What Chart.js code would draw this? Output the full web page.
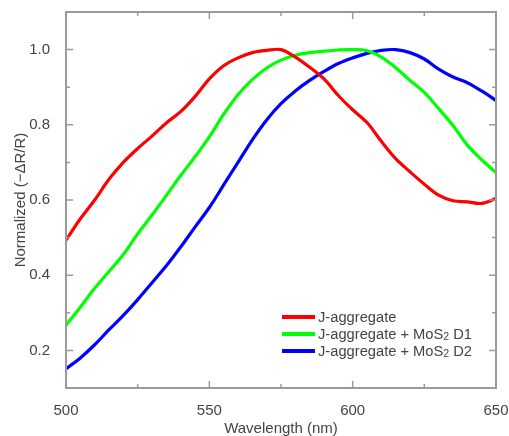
<!DOCTYPE html>
<html>
<head>
<meta charset="utf-8">
<script src="https://cdn.jsdelivr.net/npm/chart.js@4.4.0/dist/chart.umd.min.js"></script>
<style>
  html, body { margin: 0; padding: 0; background: #fff; }
</style>
</head>
<body>
<canvas id="spectraChart" width="509" height="436"></canvas>
<script>
const wavelengths = [500, 505, 510, 515, 520, 525, 530, 535, 540, 545, 550, 555, 560, 565, 570, 575,
    580, 585, 590, 595, 600, 605, 610, 615, 620, 625, 630, 635, 640, 645, 650];

const jAggregate = [0.493, 0.550, 0.600, 0.655, 0.700, 0.737, 0.770, 0.805, 0.835, 0.875, 0.922, 0.957,
    0.978, 0.992, 0.998, 1.000, 0.980, 0.953, 0.922, 0.878, 0.840, 0.806, 0.756, 0.710, 0.675, 0.642,
    0.613, 0.598, 0.595, 0.591, 0.604];

const jAggregateD1 = [0.267, 0.315, 0.365, 0.410, 0.455, 0.510, 0.560, 0.612, 0.665, 0.715, 0.768, 0.828,
    0.880, 0.920, 0.951, 0.972, 0.985, 0.992, 0.996, 0.999, 1.000, 0.997, 0.980, 0.952, 0.918, 0.886,
    0.843, 0.798, 0.746, 0.707, 0.673];

const jAggregateD2 = [0.151, 0.180, 0.215, 0.255, 0.293, 0.335, 0.380, 0.425, 0.475, 0.528, 0.580, 0.640,
    0.700, 0.760, 0.813, 0.856, 0.890, 0.918, 0.942, 0.963, 0.978, 0.990, 0.998, 1.000, 0.992, 0.975,
    0.948, 0.927, 0.912, 0.890, 0.865];

const seriesLabels = ['J-aggregate', 'J-aggregate + MoS2 D1', 'J-aggregate + MoS2 D2'];
const seriesColors = ['#ff0000', '#00ff00', '#0000ff'];

const xTickValues = [500, 550, 600, 650];
const xMinorTicks = [525, 575, 625];
const yTickValues = [0.2, 0.4, 0.6, 0.8, 1.0];
const yMinorTicks = [0.3, 0.5, 0.7, 0.9];

const textColor = '#444';
const frameColor = '#9a9a9a';
const fontFamily = "'Liberation Sans', Arial, sans-serif";

function toPoints(values) {
    return values.map((v, i) => ({ x: wavelengths[i], y: v }));
}

// draws "MoS2" with a small subscript 2
function drawLabel(ctx, text, x, y) {
    const parts = text.split('MoS2');
    let cx = x;
    parts.forEach((part, i) => {
        ctx.font = `14.7px ${fontFamily}`;
        ctx.fillText(part, cx, y);
        cx += ctx.measureText(part).width;
        if (i < parts.length - 1) {
            ctx.fillText('MoS', cx, y);
            cx += ctx.measureText('MoS').width;
            ctx.font = `10.5px ${fontFamily}`;
            ctx.fillText('2', cx, y + 2);
            cx += ctx.measureText('2').width;
        }
    });
}

const frameAndLegend = {
    id: 'frameAndLegend',
    afterDraw(chart) {
        const { ctx, chartArea: a, scales: { x, y } } = chart;
        ctx.save();
        ctx.strokeStyle = frameColor;
        ctx.lineWidth = 2;
        ctx.strokeRect(a.left, a.top, a.right - a.left, a.bottom - a.top);

        ctx.lineWidth = 1.5;
        ctx.beginPath();
        const xt = (vals, len) => vals.forEach(v => {
            const px = x.getPixelForValue(v);
            ctx.moveTo(px, a.bottom); ctx.lineTo(px, a.bottom - len);
            ctx.moveTo(px, a.top); ctx.lineTo(px, a.top + len);
        });
        const yt = (vals, len) => vals.forEach(v => {
            const py = y.getPixelForValue(v);
            ctx.moveTo(a.left, py); ctx.lineTo(a.left + len, py);
            ctx.moveTo(a.right, py); ctx.lineTo(a.right - len, py);
        });
        xt(xTickValues, 7); xt(xMinorTicks, 4);
        yt(yTickValues, 7); yt(yMinorTicks, 4);
        ctx.stroke();

        // legend
        const lx = a.left + 216;
        const ly = a.top + 305;
        chart.data.datasets.forEach((ds, i) => {
            const rowY = ly + i * 17;
            ctx.strokeStyle = ds.borderColor;
            ctx.lineWidth = 4;
            ctx.beginPath();
            ctx.moveTo(lx, rowY);
            ctx.lineTo(lx + 33, rowY);
            ctx.stroke();
            ctx.fillStyle = textColor;
            ctx.textBaseline = 'middle';
            ctx.textAlign = 'left';
            drawLabel(ctx, ds.label, lx + 36, rowY + 1);
        });
        ctx.restore();
    }
};

const datasets = [jAggregate, jAggregateD1, jAggregateD2].map((values, i) => ({
    label: seriesLabels[i],
    data: toPoints(values),
    borderColor: seriesColors[i],
    backgroundColor: seriesColors[i],
    borderWidth: 3.2,
    pointRadius: 0,
    tension: 0.35,
    borderJoinStyle: 'round',
    borderCapStyle: 'round'
}));

new Chart(document.getElementById('spectraChart').getContext('2d'), {
    type: 'line',
    data: { datasets },
    options: {
        responsive: false,
        animation: false,
        devicePixelRatio: 1,
        layout: { padding: { top: 12, right: 13, left: 0, bottom: 0 } },
        plugins: {
            legend: { display: false },
            tooltip: { enabled: false }
        },
        scales: {
            x: {
                type: 'linear',
                min: 500,
                max: 650,
                afterBuildTicks: s => { s.ticks = xTickValues.map(v => ({ value: v })); },
                afterFit: s => { s.height = 48; s.paddingLeft = 0; s.paddingRight = 0; },
                grid: { display: false },
                border: { display: false },
                ticks: {
                    padding: 6,
                    maxRotation: 0,
                    autoSkip: false,
                    color: textColor,
                    font: { family: fontFamily, size: 15 }
                },
                title: {
                    display: true,
                    text: 'Wavelength (nm)',
                    color: textColor,
                    font: { family: fontFamily, size: 15 },
                    padding: { top: 0, bottom: -2 }
                }
            },
            y: {
                min: 0.1,
                max: 1.1,
                afterBuildTicks: s => { s.ticks = yTickValues.map(v => ({ value: v })); },
                afterFit: s => { s.width = 66; s.paddingTop = 0; s.paddingBottom = 0; },
                grid: { display: false },
                border: { display: false },
                ticks: {
                    padding: 8,
                    color: textColor,
                    font: { family: fontFamily, size: 15 },
                    callback: v => v.toFixed(1)
                },
                title: {
                    display: true,
                    text: 'Normalized (\u2212\u0394R/R)',
                    color: textColor,
                    font: { family: fontFamily, size: 15 },
                    padding: { top: 12, bottom: 0 }
                }
            }
        }
    },
    plugins: [frameAndLegend]
});
</script>
</body>
</html>
